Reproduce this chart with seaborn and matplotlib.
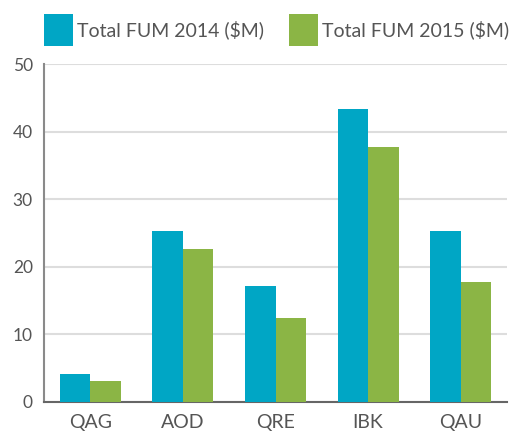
import numpy as np
import pandas as pd
import matplotlib
matplotlib.use("Agg")
import matplotlib.pyplot as plt
import seaborn as sns

# values
funds = ["QAG", "AOD", "QRE", "IBK", "QAU"]
fum_2014 = [4.1, 25.3, 17.1, 43.4, 25.3]
fum_2015 = [3.1, 22.6, 12.4, 37.7, 17.7]
series = ["Total FUM 2014 ($M)", "Total FUM 2015 ($M)"]

df = pd.DataFrame({
    "fund": funds * 2,
    "value": fum_2014 + fum_2015,
    "series": [series[0]] * len(funds) + [series[1]] * len(funds),
})

sns.set_style("white")
plt.rcParams["font.family"] = ["Lato", "DejaVu Sans"]

fig = plt.figure(figsize=(5.17, 4.34), dpi=100)
ax = fig.add_axes([44 / 517, 1 - 401.7 / 434, 463 / 517, (401.7 - 64.3) / 434])

palette = {series[0]: "#00a6c5", series[1]: "#8bb545"}
sns.barplot(data=df, x="fund", y="value", hue="series", order=funds,
            hue_order=series, palette=palette, width=0.66, saturation=1,
            edgecolor="none", linewidth=0, ax=ax, zorder=3)

ax.set_ylim(0, 50)
ax.set_xlim(-0.5, len(funds) - 0.5)
ax.set_yticks([0, 10, 20, 30, 40, 50])
ax.yaxis.grid(True, color="#dddddd", linewidth=1.5, zorder=0)
ax.set_axisbelow(True)
ax.set_xlabel("")
ax.set_ylabel("")

# ticks at the category boundaries
ax.set_xticks(np.arange(-0.5, len(funds), 1.0), minor=True)
ax.tick_params(axis="x", which="minor", direction="in", length=8, width=1.2, color="#666666")
ax.tick_params(axis="x", which="major", length=0, pad=9, labelsize=14, labelcolor="#555555")
ax.tick_params(axis="y", length=0, pad=8, labelsize=12.5, labelcolor="#555555")

for s in ["top", "right"]:
    ax.spines[s].set_visible(False)
ax.spines["left"].set_color("#8a8a8a")
ax.spines["left"].set_linewidth(1.5)
ax.spines["bottom"].set_color("#666666")
ax.spines["bottom"].set_linewidth(1.5)

handles, labels = ax.get_legend_handles_labels()
ax.legend_.remove()
fig.legend(handles, labels, loc="upper left", bbox_to_anchor=(44 / 517, 1 - 14 / 434),
           ncol=2, frameon=False, fontsize=14, borderpad=0, borderaxespad=0,
           handlelength=1.49, handleheight=2.15, handletextpad=0.2,
           columnspacing=1.3, labelcolor="#555555")

fig.savefig("out.png", dpi=100)
